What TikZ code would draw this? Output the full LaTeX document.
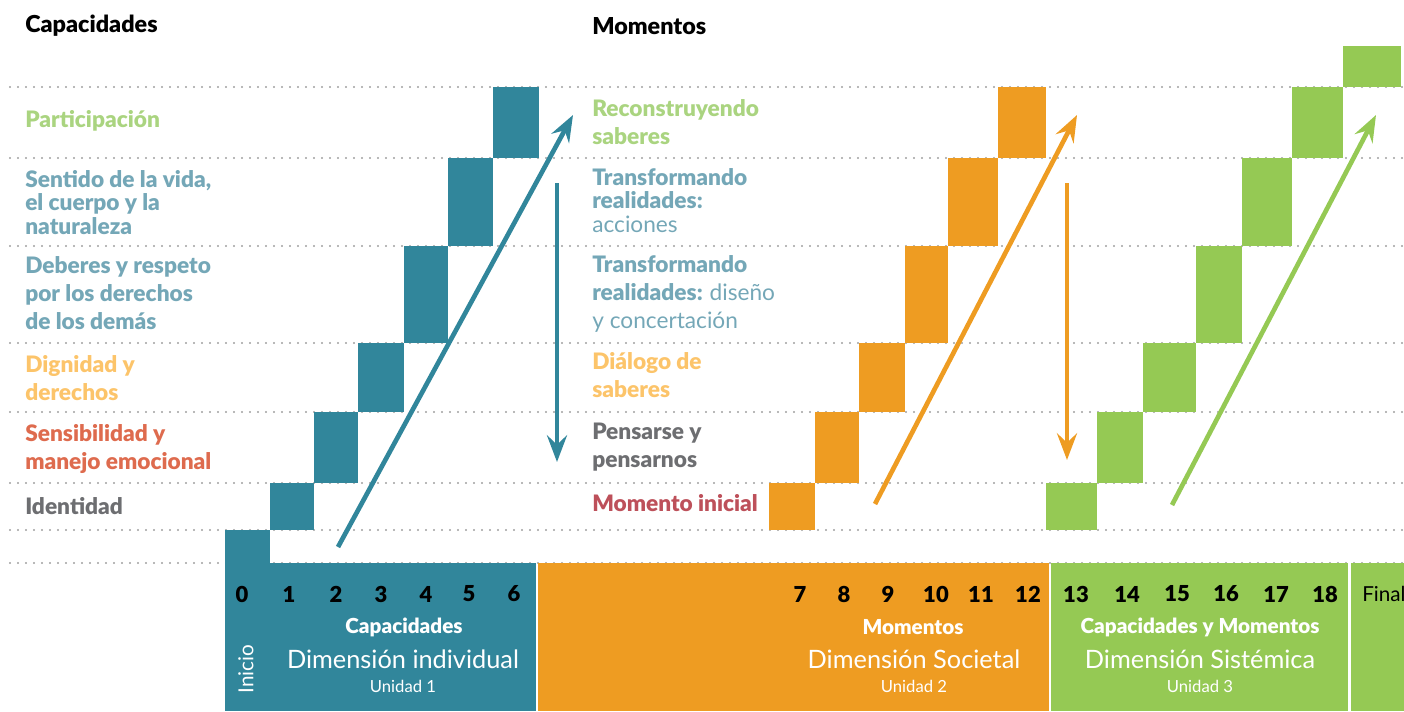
\documentclass[tikz,border=0pt]{standalone}
\usepackage{fontspec}
\setmainfont{Lato}[BoldFont={Lato Black}]
\usetikzlibrary{arrows.meta}
\definecolor{unoteal}{RGB}{49,134,155}
\definecolor{dosorange}{RGB}{238,156,34}
\definecolor{tresgreen}{RGB}{149,201,84}
\definecolor{capgreen}{RGB}{170,212,128}
\definecolor{capteal}{RGB}{116,167,183}
\definecolor{capyellow}{RGB}{252,196,106}
\definecolor{capred}{RGB}{222,107,78}
\definecolor{capgray}{RGB}{109,110,113}
\definecolor{momred}{RGB}{189,80,90}
\definecolor{dotgray}{RGB}{160,160,160}
\tikzset{>={Stealth[length=20pt,width=15pt,inset=7pt]}}

\begin{document}
\begin{tikzpicture}[x=0.75pt, y=-0.75pt,
    every node/.style={inner sep=0pt},
    title/.style={font=\fontsize{17.5}{20}\selectfont\bfseries, anchor=west},
    caplbl/.style={font=\fontsize{17}{21}\selectfont\bfseries, anchor=west, align=left},
    num/.style={font=\fontsize{16.5}{19}\selectfont\bfseries},
    barhead/.style={font=\fontsize{15.5}{18}\selectfont\bfseries, text=white},
    dim/.style={font=\fontsize{19}{23}\selectfont, text=white},
    unit/.style={font=\fontsize{12.5}{15}\selectfont, text=white},
    dots/.style={dotgray, line width=1.6pt, line cap=round, dash pattern=on 0pt off 6pt},
    uparrow/.style={->, line width=3.5pt}]
    \useasboundingbox (0,0) rectangle (1404,711);

    % Dotted rows
    \draw[dots] (10,87) -- (1404,87);
    \draw[dots] (10,158) -- (1404,158);
    \draw[dots] (10,246) -- (1404,246);
    \draw[dots] (10,343) -- (1404,343);
    \draw[dots] (10,412) -- (1404,412);
    \draw[dots] (10,483) -- (1404,483);
    \draw[dots] (10,530) -- (1404,530);
    \draw[dots] (10,563) -- (1404,563);

    % Steps
    \fill[unoteal] (225,530) rectangle (270,563);
    \fill[unoteal] (270,483) rectangle (314,530);
    \fill[unoteal] (314,412) rectangle (358,483);
    \fill[unoteal] (358,343) rectangle (404,412);
    \fill[unoteal] (404,246) rectangle (448,343);
    \fill[unoteal] (448,158) rectangle (493,246);
    \fill[unoteal] (493,87) rectangle (539,158);

    \fill[dosorange] (769,483) rectangle (815,530);
    \fill[dosorange] (815,412) rectangle (859,483);
    \fill[dosorange] (859,343) rectangle (905,412);
    \fill[dosorange] (905,246) rectangle (948,343);
    \fill[dosorange] (948,158) rectangle (998,246);
    \fill[dosorange] (998,87) rectangle (1046,158);

    \fill[tresgreen] (1046,483) rectangle (1097,530);
    \fill[tresgreen] (1097,412) rectangle (1143,483);
    \fill[tresgreen] (1143,343) rectangle (1196,412);
    \fill[tresgreen] (1196,246) rectangle (1242,343);
    \fill[tresgreen] (1242,158) rectangle (1292,246);
    \fill[tresgreen] (1292,87) rectangle (1343,158);
    \fill[tresgreen] (1343,46) rectangle (1401,87);

    % Bar
    \fill[unoteal] (225,563) rectangle (536,711);
    \fill[dosorange] (538,563) rectangle (1049,711);
    \fill[tresgreen] (1051,563) rectangle (1348,711);
    \fill[tresgreen] (1351,563) rectangle (1404,711);

    % Headings
    \node[title] (hcap) at (25,26) {Capacidades};
    \node[title] (hmom) at (592,26) {Momentos};

    % Capacidades
    \node[caplbl, text=capgreen] (part) at (25,121) {Participación};
    \node[caplbl, text=capteal, font=\fontsize{17}{17.5}\selectfont\bfseries] (sent) at (25,202.5) {Sentido de la vida,\\el cuerpo y la\\naturaleza};
    \node[caplbl, text=capteal] (deb) at (25,293) {Deberes y respeto\\por los derechos\\de los demás};
    \node[caplbl, text=capyellow] (dig) at (25,378.5) {Dignidad y\\derechos};
    \node[caplbl, text=capred] (sens) at (25,449) {Sensibilidad y\\manejo emocional};
    \node[caplbl, text=capgray] (iden) at (25,506) {Identidad};

    % Momentos
    \node[caplbl, text=capgreen] (recon) at (592,122) {Reconstruyendo\\saberes};
    \node[caplbl, text=capteal, font=\fontsize{17}{17.5}\selectfont\bfseries] (tacc) at (592,200.5) {Transformando\\realidades:\\{\mdseries acciones}};
    \node[caplbl, text=capteal] (tdis) at (592,293.5) {Transformando\\realidades: {\mdseries diseño}\\{\mdseries y concertación}};
    \node[caplbl, text=capyellow] (dial) at (592,375) {Diálogo de\\saberes};
    \node[caplbl, text=capgray] (pens) at (592,447) {Pensarse y\\pensarnos};
    \node[caplbl, text=momred] (mini) at (592,503) {Momento inicial};

    % Arrows
    \coordinate (ta) at (338,547);
    \coordinate (tb) at (573,115);
    \coordinate (tc) at (557,183);
    \coordinate (td) at (557,462);
    \coordinate (oa) at (875,504);
    \coordinate (ob) at (1077,115);
    \coordinate (oc) at (1067,183);
    \coordinate (od) at (1067,460);
    \coordinate (ga) at (1172,505);
    \coordinate (gb) at (1376,115);
    \draw[uparrow, unoteal] (ta) -- (tb);
    \draw[uparrow, unoteal] (tc) -- (td);
    \draw[uparrow, dosorange] (oa) -- (ob);
    \draw[uparrow, dosorange] (oc) -- (od);
    \draw[uparrow, tresgreen] (ga) -- (gb);

    % Numbers
    \node[num] (n0) at (242,594) {0};
    \node[num] (n1) at (289,594) {1};
    \node[num] (n2) at (336,594) {2};
    \node[num] (n3) at (381,594) {3};
    \node[num] (n4) at (426,594) {4};
    \node[num] (n5) at (469,594) {5};
    \node[num] (n6) at (514,594) {6};
    \node[num] (n7) at (800,594) {7};
    \node[num] (n8) at (844,594) {8};
    \node[num] (n9) at (888,594) {9};
    \node[num] (n10) at (936,594) {10};
    \node[num] (n11) at (981,594) {11};
    \node[num] (n12) at (1028,594) {12};
    \node[num] (n13) at (1076,594) {13};
    \node[num] (n14) at (1127,594) {14};
    \node[num] (n15) at (1177,594) {15};
    \node[num] (n16) at (1226,594) {16};
    \node[num] (n17) at (1276,594) {17};
    \node[num] (n18) at (1325,594) {18};
    \node[anchor=west, font=\fontsize{15.5}{18}\selectfont] (fin) at (1362,594) {Final};

    % Unidades
    \node[font=\fontsize{15.5}{18}\selectfont, text=white, rotate=90] (ini) at (246,669) {Inicio};
    \node[barhead] (bcap) at (404,627) {Capacidades};
    \node[dim] (dind) at (403,659) {Dimensión individual};
    \node[unit] (u1) at (403,686) {Unidad 1};
    \node[barhead] (bmom) at (913,627) {Momentos};
    \node[dim] (dsoc) at (914,659) {Dimensión Societal};
    \node[unit] (u2) at (914,686) {Unidad 2};
    \node[barhead] (bcm) at (1200,627) {Capacidades y Momentos};
    \node[dim] (dsis) at (1200,659) {Dimensión Sistémica};
    \node[unit] (u3) at (1200,686) {Unidad 3};
\end{tikzpicture}
\end{document}
